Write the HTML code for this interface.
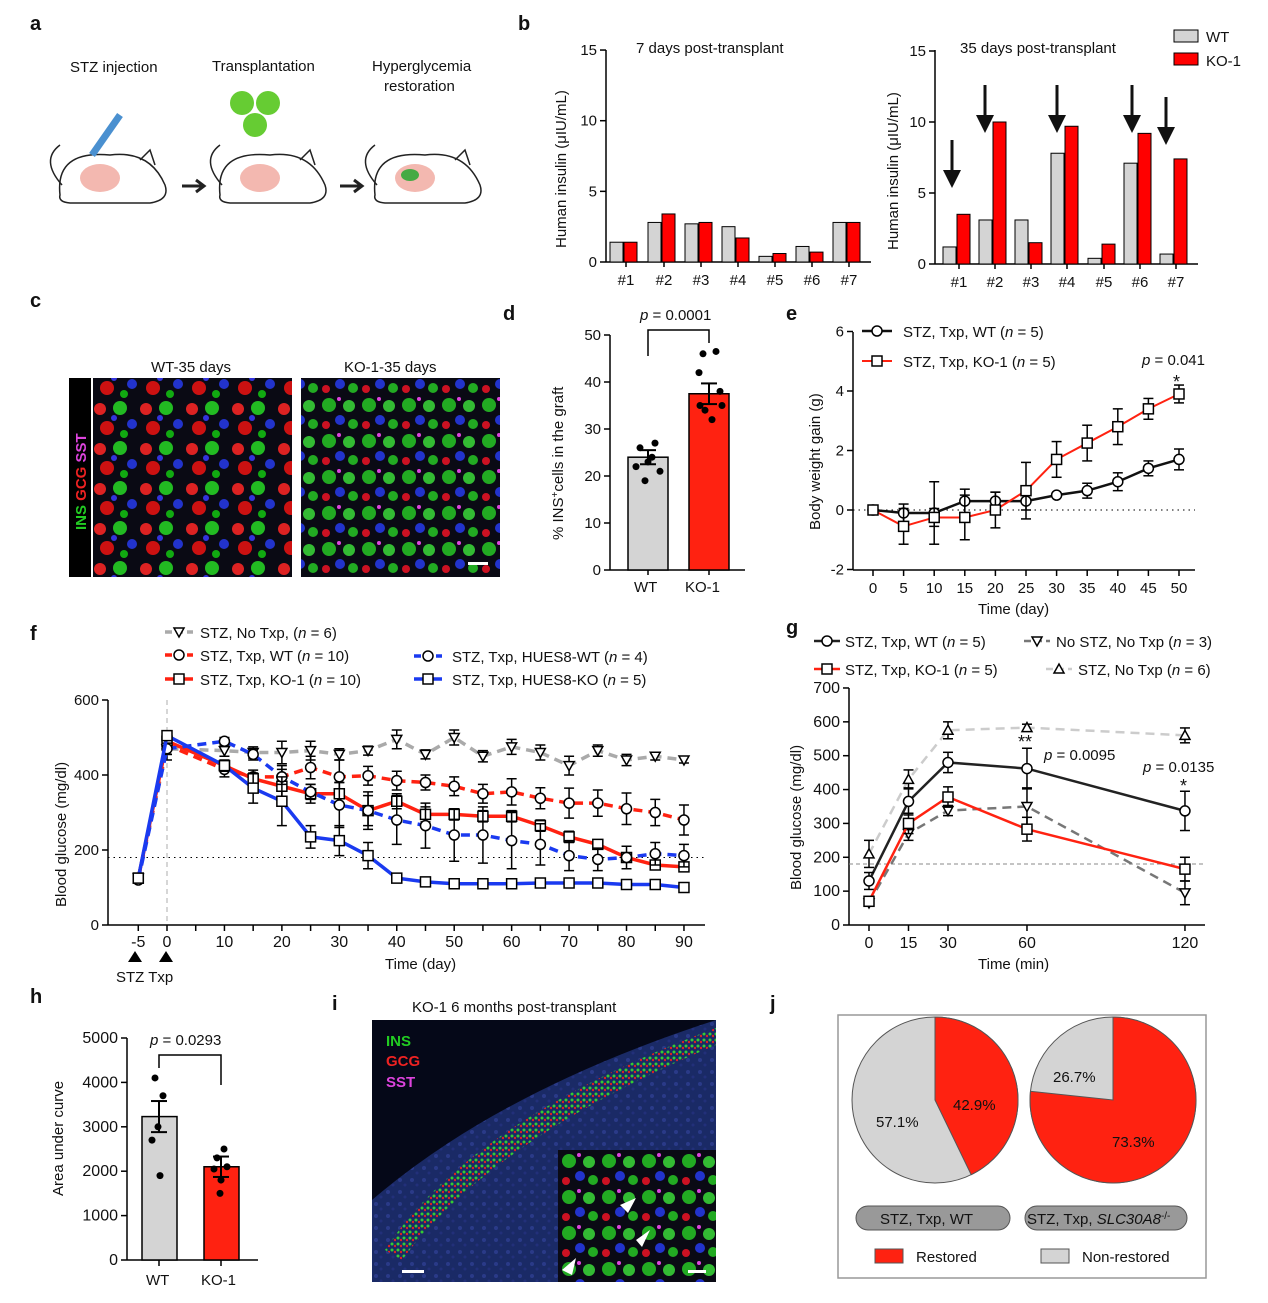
<!DOCTYPE html>
<html><head><meta charset="utf-8">
<style>
html,body{margin:0;padding:0;background:#fff}
svg{display:block;font-family:"Liberation Sans",Arial,sans-serif}
text{fill:#111}
</style></head><body>
<svg id="s" width="1268" height="1303" viewBox="0 0 1268 1303" xmlns="http://www.w3.org/2000/svg">
<defs>
<pattern id="cells1" width="46" height="40" patternUnits="userSpaceOnUse">
<rect width="46" height="40" fill="#0a0a14"/>
<circle cx="8" cy="9" r="6" fill="#d22"/><circle cx="28" cy="8" r="7" fill="#2b2"/>
<circle cx="40" cy="24" r="5" fill="#23c"/><circle cx="15" cy="28" r="7" fill="#c11"/>
<circle cx="32" cy="34" r="4" fill="#1a1"/><circle cx="22" cy="18" r="3" fill="#33d"/>
</pattern>
<pattern id="cells2" width="40" height="36" patternUnits="userSpaceOnUse">
<rect width="40" height="36" fill="#0a0a14"/>
<circle cx="9" cy="9" r="7" fill="#2a2"/><circle cx="29" cy="10" r="6" fill="#3b3"/>
<circle cx="20" cy="24" r="5" fill="#23c"/><circle cx="6" cy="29" r="4" fill="#c12"/>
<circle cx="33" cy="28" r="5" fill="#2a2"/><circle cx="19" cy="3" r="2" fill="#d4d"/>
</pattern>
<pattern id="tissue" width="12" height="12" patternUnits="userSpaceOnUse">
<rect width="12" height="12" fill="#1a2a66"/><circle cx="4" cy="4" r="2" fill="#2a3a88"/><circle cx="9" cy="9" r="1.5" fill="#22307a"/>
</pattern>
<pattern id="dots" width="6" height="6" patternUnits="userSpaceOnUse">
<rect width="6" height="6" fill="#1a2a66"/><circle cx="2" cy="2" r="1.5" fill="#3c3"/><circle cx="5" cy="4" r="1.2" fill="#d22"/>
</pattern>
</defs>

<g font-weight="bold" font-size="20">
<text x="30" y="30">a</text><text x="518" y="30">b</text>
<text x="30" y="307">c</text><text x="503" y="320">d</text><text x="786" y="320">e</text>
<text x="30" y="640">f</text><text x="786" y="634">g</text>
<text x="30" y="1003">h</text><text x="332" y="1010">i</text><text x="770" y="1010">j</text>
</g>

<g font-size="15">
<text x="70" y="72">STZ injection</text>
<text x="212" y="71">Transplantation</text>
<text x="372" y="71">Hyperglycemia</text>
<text x="384" y="91">restoration</text>
</g>
<g fill="none" stroke="#222" stroke-width="1.5">
<path d="M60 195 Q55 150 110 155 Q150 150 165 185 Q170 200 150 203 L70 203 Q58 202 60 195Z" fill="#fff"/>
<path d="M220 195 Q215 150 270 155 Q310 150 325 185 Q330 200 310 203 L230 203 Q218 202 220 195Z" fill="#fff"/>
<path d="M375 195 Q370 150 425 155 Q465 150 480 185 Q485 200 465 203 L385 203 Q373 202 375 195Z" fill="#fff"/>
<path d="M62 185 Q40 160 60 145"/><path d="M222 185 Q200 160 220 145"/><path d="M377 185 Q355 160 375 145"/>
<path d="M140 160 L150 150 L155 165"/><path d="M300 160 L310 150 L315 165"/><path d="M455 160 L465 150 L470 165"/>
</g>
<ellipse cx="100" cy="178" rx="20" ry="14" fill="#f3b8b0"/>
<ellipse cx="260" cy="178" rx="20" ry="14" fill="#f3b8b0"/>
<ellipse cx="415" cy="178" rx="20" ry="14" fill="#f3b8b0"/><ellipse cx="410" cy="175" rx="9" ry="6" fill="#4a4"/>
<path d="M92 155 L120 115" stroke="#4a90d0" stroke-width="7"/>
<path d="M182 186 L202 186 M196 180 L204 186 L196 192" stroke="#222" stroke-width="3" fill="none"/>
<path d="M340 186 L360 186 M354 180 L362 186 L354 192" stroke="#222" stroke-width="3" fill="none"/>
<circle cx="242" cy="103" r="12" fill="#6c3"/><circle cx="268" cy="103" r="12" fill="#6c3"/><circle cx="255" cy="125" r="12" fill="#6c3"/>

<rect x="69" y="378" width="22" height="199" fill="#000"/>
<text transform="translate(86,530) rotate(-90)" font-size="15" font-weight="bold"><tspan fill="#2c2">INS </tspan><tspan fill="#e22">GCG </tspan><tspan fill="#d4d">SST</tspan></text>
<rect x="93" y="378" width="199" height="199" fill="url(#cells1)"/>
<rect x="301" y="378" width="199" height="199" fill="url(#cells2)"/>
<rect x="468" y="562" width="20" height="3" fill="#fff"/>
<text x="151" y="372" font-size="15">WT-35 days</text>
<text x="344" y="372" font-size="15">KO-1-35 days</text>

<g id="plots"></g>

<g font-size="15">
<text x="636" y="53">7 days post-transplant</text>
<text x="960" y="53">35 days post-transplant</text>
<rect x="1174" y="30" width="24" height="12" fill="#d4d4d4" stroke="#000"/><text x="1206" y="42">WT</text>
<rect x="1174" y="53" width="24" height="12" fill="#f00" stroke="#000"/><text x="1206" y="66">KO-1</text>
<text transform="translate(566,248) rotate(-90)">Human insulin (μIU/mL)</text>
<text transform="translate(898,250) rotate(-90)">Human insulin (μIU/mL)</text>
</g>

<g font-size="15">
<text x="640" y="320"><tspan font-style="italic">p</tspan> = 0.0001</text>
<text transform="translate(563,540) rotate(-90)">% INS<tspan dy="-5" font-size="10">+</tspan><tspan dy="5">cells in the graft</tspan></text>
<text x="634" y="592">WT</text><text x="685" y="592">KO-1</text>
</g>

<g font-size="15">
<text x="903" y="337">STZ, Txp, WT (<tspan font-style="italic">n</tspan> = 5)</text>
<text x="903" y="367">STZ, Txp, KO-1 (<tspan font-style="italic">n</tspan> = 5)</text>
<text x="1142" y="365"><tspan font-style="italic">p</tspan> = 0.041</text>
<text x="1173" y="388" font-size="18">*</text>
<text x="978" y="614">Time (day)</text>
<text transform="translate(820,530) rotate(-90)">Body weight gain (g)</text>
</g>

<g font-size="15">
<text x="200" y="638">STZ, No Txp, (<tspan font-style="italic">n</tspan> = 6)</text>
<text x="200" y="661">STZ, Txp, WT (<tspan font-style="italic">n</tspan> = 10)</text>
<text x="200" y="685">STZ, Txp, KO-1 (<tspan font-style="italic">n</tspan> = 10)</text>
<text x="452" y="662">STZ, Txp, HUES8-WT (<tspan font-style="italic">n</tspan> = 4)</text>
<text x="452" y="685">STZ, Txp, HUES8-KO (<tspan font-style="italic">n</tspan> = 5)</text>
<text x="385" y="969">Time (day)</text>
<text x="116" y="982">STZ Txp</text>
<text transform="translate(66,907) rotate(-90)">Blood glucose (mg/dl)</text>
</g>
<path d="M128 962 L135 951 L142 962Z M159 962 L166 951 L173 962Z" fill="#000"/>

<g font-size="15">
<text x="845" y="647">STZ, Txp, WT (<tspan font-style="italic">n</tspan> = 5)</text>
<text x="1056" y="647">No STZ, No Txp (<tspan font-style="italic">n</tspan> = 3)</text>
<text x="845" y="675">STZ, Txp, KO-1 (<tspan font-style="italic">n</tspan> = 5)</text>
<text x="1078" y="675">STZ, No Txp (<tspan font-style="italic">n</tspan> = 6)</text>
<text x="1044" y="760"><tspan font-style="italic">p</tspan> = 0.0095</text>
<text x="1143" y="772"><tspan font-style="italic">p</tspan> = 0.0135</text>
<text x="1018" y="748" font-size="18">**</text>
<text x="1180" y="792" font-size="18">*</text>
<text x="978" y="969">Time (min)</text>
<text transform="translate(801,890) rotate(-90)">Blood glucose (mg/dl)</text>
</g>

<g font-size="15">
<text x="150" y="1045"><tspan font-style="italic">p</tspan> = 0.0293</text>
<text transform="translate(63,1196) rotate(-90)">Area under curve</text>
<text x="146" y="1285">WT</text><text x="201" y="1285">KO-1</text>
</g>

<text x="412" y="1012" font-size="15">KO-1   6 months post-transplant</text>
<rect x="372" y="1020" width="344" height="262" fill="#050818"/>
<path d="M372 1282 L372 1200 Q500 1090 716 1020 L716 1282Z" fill="url(#tissue)"/>
<path d="M385 1250 Q470 1120 716 1028 L716 1045 Q490 1140 402 1260Z" fill="url(#dots)"/>
<rect x="558" y="1150" width="158" height="132" fill="url(#cells2)"/>
<rect x="402" y="1270" width="22" height="3" fill="#fff"/><rect x="688" y="1270" width="18" height="3" fill="#fff"/>
<g font-size="15" font-weight="bold"><text x="386" y="1046" style="fill:#2c2">INS</text><text x="386" y="1066" style="fill:#e22">GCG</text><text x="386" y="1087" style="fill:#d4d">SST</text></g>
<path d="M620 1205 L636 1198 L628 1213Z M636 1240 L650 1230 L642 1247Z M562 1270 L576 1258 L572 1275Z" fill="#fff"/>

<rect x="838" y="1015" width="368" height="263" fill="none" stroke="#999" stroke-width="1.5"/>
<circle cx="935" cy="1100" r="83" fill="#d4d4d4" stroke="#555"/>
<path d="M935 1100 L935 1017 A83 83 0 0 1 971.2 1174.7 Z" fill="#f21" stroke="#555"/>
<circle cx="1113" cy="1100" r="83" fill="#d4d4d4" stroke="#555"/>
<path d="M1113 1100 L1113 1017 A83 83 0 1 1 1030.5 1091.3 Z" fill="#f21" stroke="#555"/>
<g font-size="15">
<text x="953" y="1110">42.9%</text><text x="876" y="1127">57.1%</text>
<text x="1053" y="1082">26.7%</text><text x="1112" y="1147">73.3%</text>
</g>
<rect x="856" y="1206" width="154" height="24" rx="12" fill="#999" stroke="#555"/>
<rect x="1025" y="1206" width="162" height="24" rx="12" fill="#999" stroke="#555"/>
<g font-size="15">
<text x="880" y="1224">STZ, Txp, WT</text>
<text x="1027" y="1224">STZ, Txp, <tspan font-style="italic">SLC30A8</tspan><tspan dy="-5" font-size="10">-/-</tspan></text>
<rect x="875" y="1249" width="28" height="14" fill="#f21" stroke="#555"/><text x="916" y="1262">Restored</text>
<rect x="1041" y="1249" width="28" height="14" fill="#d4d4d4" stroke="#555"/><text x="1082" y="1262">Non-restored</text>
</g>
</svg>
<script>
var NS="http://www.w3.org/2000/svg",G=document.getElementById("plots");
function el(t,a,p){var e=document.createElementNS(NS,t);for(var k in a)e.setAttribute(k,a[k]);(p||G).appendChild(e);return e;}
function line(x1,y1,x2,y2,c,w,d){return el("line",{x1:x1,y1:y1,x2:x2,y2:y2,stroke:c||"#000","stroke-width":w||1.5,"stroke-dasharray":d||""});}
function txt(x,y,s,anc,fs){var t=el("text",{x:x,y:y,"font-size":fs||15,"text-anchor":anc||"middle"});t.textContent=s;}
function mark(x,y,type,r){r=r||5;var a={fill:"#fff",stroke:"#000","stroke-width":1.5};
 if(type=="c"){a.cx=x;a.cy=y;a.r=r;el("circle",a);}
 else if(type=="s"){a.x=x-r;a.y=y-r;a.width=2*r;a.height=2*r;el("rect",a);}
 else if(type=="t"){a.points=(x-r)+","+(y+r*0.8)+" "+(x+r)+","+(y+r*0.8)+" "+x+","+(y-r);el("polygon",a);}
 else if(type=="v"){a.points=(x-r)+","+(y-r*0.8)+" "+(x+r)+","+(y-r*0.8)+" "+x+","+(y+r);el("polygon",a);}}
function yaxis(x,y0,y1,ticks,fn,fs){line(x,y0,x,y1);ticks.forEach(function(v){var y=fn(v);line(x-6,y,x,y);txt(x-9,y+5,String(v),"end",fs);});}
function series(xs,ys,col,w,dash,type,err){var p="";xs.forEach(function(x,i){p+=(i?"L":"M")+x+" "+ys[i];});
 el("path",{d:p,fill:"none",stroke:col,"stroke-width":w,"stroke-dasharray":dash||""});
 xs.forEach(function(x,i){if(err){var e=err[i];line(x,ys[i]-e,x,ys[i]+e,"#000",1.5);line(x-5,ys[i]-e,x+5,ys[i]-e);line(x-5,ys[i]+e,x+5,ys[i]+e);}mark(x,ys[i],type);});}

function bpanel(ax,y0,scale,top,ticks,cent,wt,ko,ya){
 yaxis(ax,y0,ya,ticks,function(v){return y0-v*scale;});
 line(ax,y0,cent[6]+22,y0);
 cent.forEach(function(c,i){el("rect",{x:c-16,y:y0-wt[i]*scale,width:13,height:wt[i]*scale,fill:"#d4d4d4",stroke:"#000","stroke-width":1});
  el("rect",{x:c-2,y:y0-ko[i]*scale,width:13,height:ko[i]*scale,fill:"#f00",stroke:"#000","stroke-width":1});
  line(c,y0,c,y0+5);txt(c,y0+23,"#"+(i+1));});}
bpanel(606,262,14.13,50,[0,5,10,15],[626,664,701,738,775,812,849],[1.4,2.8,2.7,2.5,0.4,1.1,2.8],[1.4,3.4,2.8,1.7,0.6,0.7,2.8],50);
bpanel(935,264,14.2,50,[0,5,10,15],[959,995,1031,1067,1104,1140,1176],[1.2,3.1,3.1,7.8,0.4,7.1,0.7],[3.5,10,1.5,9.7,1.4,9.2,7.4],50);
[[952,140],[985,85],[1057,85],[1132,85],[1166,97]].forEach(function(a){line(a[0],a[1],a[0],a[1]+42,"#111",3);el("polygon",{points:(a[0]-9)+","+(a[1]+30)+" "+(a[0]+9)+","+(a[1]+30)+" "+a[0]+","+(a[1]+48),fill:"#111"});});

(function(){var y0=570,s=4.7;yaxis(610,y0,335,[0,10,20,30,40,50],function(v){return y0-v*s;});line(610,y0,745,y0);
 el("rect",{x:628,y:y0-24*s,width:40,height:24*s,fill:"#d4d4d4",stroke:"#000","stroke-width":1.5});
 el("rect",{x:689,y:y0-37.5*s,width:40,height:37.5*s,fill:"#f21",stroke:"#000","stroke-width":1.5});
 [[648,24,1.5],[709,37.5,2.2]].forEach(function(b){var y=y0-b[1]*s,e=b[2]*s;line(b[0],y-e,b[0],y+e,"#000",2);line(b[0]-8,y-e,b[0]+8,y-e,"#000",2);line(b[0]-8,y+e,b[0]+8,y+e,"#000",2);});
 [[640,26],[655,27],[648,23],[636,22],[660,21],[645,19],[652,24]].forEach(function(p){el("circle",{cx:p[0],cy:y0-p[1]*s,r:3.5,fill:"#000"});});
 [[703,46],[716,46.5],[699,42],[720,38],[705,34],[712,32],[700,35],[722,35]].forEach(function(p){el("circle",{cx:p[0],cy:y0-p[1]*s,r:3.5,fill:"#000"});});
 el("path",{d:"M648 356 L648 330 L709 330 L709 343",fill:"none",stroke:"#000","stroke-width":1.5});
 line(648,y0,648,y0+5);line(709,y0,709,y0+5);})();

(function(){var y=function(v){return 510-v*29.75;};yaxis(853,570,332,[-2,0,2,4,6],y);line(853,570,1195,570);
 line(853,510,1195,510,"#000",1,"1.5 4");
 var xs=[];for(var i=0;i<=10;i++){var x=873+i*30.6;xs.push(x);line(x,570,x,576);txt(x,593,String(i*5));}
 var wt=[0,-0.1,-0.1,0.3,0.3,0.3,0.5,0.65,0.95,1.4,1.7],we=[0,0.3,1.05,0.4,0.3,0.3,0.05,0.25,0.3,0.25,0.35];
 var ko=[0,-0.55,-0.25,-0.25,0,0.65,1.7,2.25,2.8,3.4,3.9],ke=[0,0.6,0.3,0.75,0.6,0.95,0.6,0.6,0.6,0.35,0.3];
 series(xs,wt.map(y),"#111",2.5,"","c",we.map(function(e){return e*29.75;}));
 series(xs,ko.map(y),"#f21",2,"","s",ke.map(function(e){return e*29.75;}));
 line(862,331,892,331,"#111",2.5);mark(877,331,"c");line(862,361,892,361,"#f21",2);mark(877,361,"s");})();

(function(){var y=function(v){return 925-v*0.375;},X=function(d){return 167+d*5.744;};
 yaxis(108,925,700,[0,200,400,600],y,15);line(108,925,705,925);
 line(167,700,167,925,"#bbb",1.2,"5 4");line(108,y(180),705,y(180),"#000",1,"1.5 4");
 [-5,0,5,10,15,20,25,30,35,40,45,50,55,60,65,70,75,80,85,90].forEach(function(d){line(X(d),925,X(d),931);if(d%10==0||d==-5)txt(X(d),947,String(d),"middle",16);});
 var d=[-5,0,10,15,20,25,30,35,40,45,50,55,60,65,70,75,80,85,90],xs=d.map(X);
 var S=[
  [[125,470,465,460,460,465,455,465,495,455,500,450,475,460,425,465,440,450,440],"#aaa",3.5,"9 6","v",[5,30,15,15,30,25,15,12,25,12,20,15,20,20,25,15,15,10,8]],
  [[125,480,415,395,395,420,395,398,385,380,370,350,355,338,325,325,310,300,280],"#f21",3.5,"9 6","c",[5,25,20,18,30,30,45,25,25,20,25,25,35,28,40,35,42,35,40]],
  [[125,490,425,390,370,350,350,305,330,295,295,290,290,265,235,215,180,160,155],"#f21",3.5,"","s",[5,20,15,15,30,25,30,50,20,20,15,15,15,15,15,10,10,10,10]],
  [[120,470,490,455,395,355,320,305,280,265,240,240,225,215,185,175,180,190,185],"#1a3af0",3.5,"9 6","c",[5,15,10,15,20,20,60,40,65,60,70,75,75,55,40,30,30,30,30]],
  [[125,505,425,365,330,235,225,185,125,115,110,110,110,112,112,112,108,108,100],"#1a3af0",3.5,"","s",[5,10,12,40,65,30,40,35,5,5,5,5,5,5,5,5,5,5,5]]];
 S.forEach(function(s){series(xs,s[0].map(y),s[1],s[2],s[3],s[4],s[5].map(function(e){return e*0.375;}));});
 line(165,632,193,632,"#aaa",3.5,"7 4");mark(179,632,"v");
 line(165,655,193,655,"#f21",3.5,"7 4");mark(179,655,"c");
 line(165,679,193,679,"#f21",3.5);mark(179,679,"s");
 line(414,656,442,656,"#1a3af0",3.5,"7 4");mark(428,656,"c");
 line(414,679,442,679,"#1a3af0",3.5);mark(428,679,"s");})();

(function(){var y=function(v){return 925-v*0.3386;},X=function(t){return 869+t*2.633;};
 yaxis(849,925,688,[0,100,200,300,400,500,600,700],y,16);line(849,925,1205,925);
 line(849,y(180),1205,y(180),"#888",1,"4 3");
 [0,15,30,60,120].forEach(function(t){line(X(t),925,X(t),931);txt(X(t),948,String(t),"middle",16);});
 var xs=[0,15,30,60,120].map(X);
 series(xs,[210,430,575,583,560].map(y),"#ccc",2.5,"9 6","t",[40,28,25,10,22].map(function(e){return e*0.3386;}));
 series(xs,[65,270,338,350,95].map(y),"#777",2.5,"9 6","v",[8,20,15,55,35].map(function(e){return e*0.3386;}));
 series(xs,[130,365,480,462,337].map(y),"#222",2.5,"","c",[25,40,30,60,58].map(function(e){return e*0.3386;}));
 series(xs,[70,300,378,283,165].map(y),"#f21",2.5,"","s",[10,30,30,35,35].map(function(e){return e*0.3386;}));
 line(814,641,840,641,"#222",2.5);mark(827,641,"c");
 line(1024,641,1050,641,"#777",2.5,"7 4");mark(1037,641,"v");
 line(814,669,840,669,"#f21",2.5);mark(827,669,"s");
 line(1046,669,1072,669,"#ccc",2.5,"7 4");mark(1059,669,"t");})();

(function(){var y0=1260,s=0.0444,y=function(v){return y0-v*s;};
 yaxis(127,1260,1038,[0,1000,2000,3000,4000,5000],y,16);line(127,1260,258,1260);
 el("rect",{x:142,y:y(3230),width:35,height:3230*s,fill:"#d4d4d4",stroke:"#000","stroke-width":1.5});
 el("rect",{x:204,y:y(2100),width:35,height:2100*s,fill:"#f21",stroke:"#000","stroke-width":1.5});
 [[159,3230,350],[221,2100,230]].forEach(function(b){var yy=y(b[1]),e=b[2]*s;line(b[0],yy-e,b[0],yy+e,"#000",2);line(b[0]-8,yy-e,b[0]+8,yy-e,"#000",2);line(b[0]-8,yy+e,b[0]+8,yy+e,"#000",2);});
 [[155,4100],[163,3700],[158,3000],[152,2700],[160,1900]].forEach(function(p){el("circle",{cx:p[0],cy:y(p[1]),r:3.5,fill:"#000"});});
 [[224,2500],[217,2300],[227,2100],[214,2050],[221,1800],[220,1500]].forEach(function(p){el("circle",{cx:p[0],cy:y(p[1]),r:3.5,fill:"#000"});});
 el("path",{d:"M159 1068 L159 1055 L221 1055 L221 1085",fill:"none",stroke:"#000","stroke-width":1.5});
 line(159,1260,159,1266);line(221,1260,221,1266);})();
</script>
</body></html>
